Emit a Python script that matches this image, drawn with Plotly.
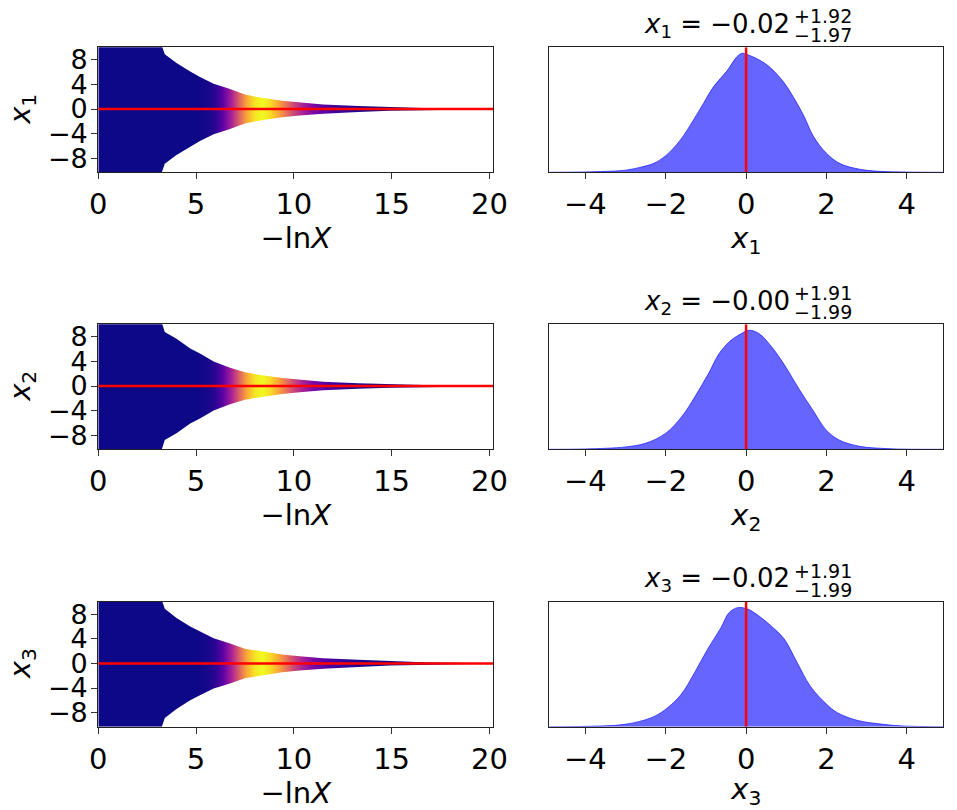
import plotly.graph_objects as go
from plotly.subplots import make_subplots
from plotly.colors import sample_colorscale

# ---------------- data ----------------
labels = ["1", "2", "3"]
medians = ["−0.02", "−0.00", "−0.02"]
err_hi = ["+1.92", "+1.91", "+1.91"]
err_lo = ["−1.97", "−1.99", "−1.99"]
truths = [0.0, 0.0, 0.0]

# trace (left) panels: envelope half-width of samples vs -lnX
lnx_pts = [0, 3.25, 3.4, 4.0, 4.7, 5.2, 5.9, 6.7, 7.5, 8.2, 9.4, 10.3, 11.5, 13.3, 14.9, 16.6, 18.3, 20.2]
hw1 = [10.3, 10.3, 8.9, 7.5, 6.1, 5.2, 4.1, 3.3, 2.35, 1.9, 1.35, 1.05, 0.75, 0.5, 0.3, 0.18, 0.1, 0.05]
hw2 = [10.3, 10.3, 8.8, 7.7, 6.1, 5.3, 4.0, 3.0, 2.25, 1.85, 1.3, 1.0, 0.7, 0.45, 0.27, 0.16, 0.1, 0.05]
hw3 = [10.3, 10.3, 8.9, 7.4, 6.0, 5.2, 4.1, 3.3, 2.4, 2.05, 1.45, 1.15, 0.85, 0.6, 0.35, 0.2, 0.12, 0.06]
halfwidths = [hw1, hw2, hw3]

# importance weight (colour) vs -lnX
w_x = [0, 5.0, 5.6, 6.0, 6.4, 6.8, 7.2, 7.6, 8.0, 8.4, 8.8, 9.2, 9.6, 10.0, 10.5, 11.0, 11.5, 12.0, 13.0, 14.0, 16.0, 20.2]
w_val = [0, 0, 0.02, 0.06, 0.18, 0.36, 0.58, 0.8, 0.95, 1.0, 0.93, 0.8, 0.65, 0.5, 0.36, 0.25, 0.17, 0.11, 0.05, 0.02, 0, 0]

# marginal posterior densities (peak normalised)
d1_x = [-4.9, -4, -3.5, -3, -2.6, -2.3, -2, -1.64, -1.31, -1.06, -0.81, -0.48, -0.23, -0.1, 0.02, 0.35, 0.6, 0.93, 1.18, 1.43, 1.68, 2.0, 2.34, 2.84, 3.34, 4, 4.9]
d1_y = [0, 0.003, 0.008, 0.018, 0.045, 0.075, 0.14, 0.27, 0.44, 0.58, 0.72, 0.85, 0.97, 1.0, 0.99, 0.94, 0.88, 0.76, 0.63, 0.48, 0.30, 0.16, 0.073, 0.025, 0.008, 0.002, 0]
d2_x = [-4.9, -4, -3, -2.51, -2, -1.59, -1.26, -0.93, -0.68, -0.43, -0.18, 0.08, 0.33, 0.66, 0.99, 1.33, 1.66, 2, 2.33, 2.83, 3.5, 4, 4.9]
d2_y = [0, 0.003, 0.02, 0.05, 0.135, 0.28, 0.45, 0.64, 0.8, 0.9, 0.96, 1.0, 0.97, 0.85, 0.69, 0.50, 0.33, 0.16, 0.076, 0.025, 0.006, 0.001, 0]
d3_x = [-4.9, -3.98, -3.02, -2.36, -2, -1.62, -1.29, -0.96, -0.63, -0.42, -0.21, 0.03, 0.28, 0.61, 0.94, 1.27, 1.6, 2, 2.26, 2.76, 3.42, 3.92, 4.9]
d3_y = [0, 0.003, 0.02, 0.076, 0.147, 0.27, 0.45, 0.65, 0.83, 0.96, 1.0, 0.99, 0.94, 0.85, 0.74, 0.54, 0.34, 0.19, 0.12, 0.054, 0.02, 0.006, 0]
dens = [(d1_x, d1_y), (d2_x, d2_y), (d3_x, d3_y)]

x_ticks_left = [0, 5, 10, 15, 20]
y_ticks_left = [-8, -4, 0, 4, 8]
x_ticks_right = [-4, -2, 0, 2, 4]

# ---------------- figure ----------------
W, H = 957, 810
FONT = "DejaVu Sans"
fig = make_subplots(rows=3, cols=2)

row_tops = [47.3, 324.3, 601.7]
panel_h = 125.0
left_dom = [98.3 / W, 493.3 / W]
right_dom = [549.3 / W, 943.3 / W]

xmax_left = 20.2
stops = [[x / xmax_left, c] for x, c in zip(w_x, sample_colorscale("Plasma", w_val))]

for i in range(3):
    r = i + 1
    hw = halfwidths[i]
    px = list(lnx_pts) + list(reversed(lnx_pts))
    py = list(hw) + [-v for v in reversed(hw)]
    fig.add_trace(go.Scatter(x=px, y=py, mode="lines", fill="toself",
                             line=dict(width=0),
                             fillgradient=dict(type="horizontal", colorscale=stops,
                                               start=0, stop=xmax_left),
                             showlegend=False, hoverinfo="skip"), row=r, col=1)
    fig.add_trace(go.Scatter(x=[0, xmax_left], y=[truths[i], truths[i]], mode="lines",
                             line=dict(color="red", width=2.5), showlegend=False),
                  row=r, col=1)
    dx, dy = dens[i]
    fig.add_trace(go.Scatter(x=dx, y=dy, mode="lines", fill="tozeroy",
                             line=dict(color="rgba(0,0,255,0.6)", width=1, shape="spline", smoothing=1.0),
                             fillcolor="rgba(0,0,255,0.6)", showlegend=False), row=r, col=2)
    fig.add_trace(go.Scatter(x=[truths[i], truths[i]], y=[0, 1.05], mode="lines",
                             line=dict(color="red", width=2.5), showlegend=False), row=r, col=2)

    top = row_tops[i]
    ydom = [1 - (top + panel_h) / H, 1 - top / H]
    axis_common = dict(showline=True, linecolor="#222", linewidth=1.2, mirror=True,
                       ticks="outside", ticklen=6, tickwidth=1.2, tickcolor="#333",
                       showgrid=False, zeroline=False, automargin=False)
    fig.update_xaxes(domain=left_dom, range=[0, xmax_left], tickvals=x_ticks_left,
                     tickfont=dict(family=FONT, size=29, color="black"),
                     title=dict(text="−ln<i>X</i>", font=dict(family=FONT, size=29, color="black"), standoff=0),
                     row=r, col=1, **axis_common)
    fig.update_yaxes(domain=ydom, range=[-10.3, 10.05], tickvals=y_ticks_left,
                     tickfont=dict(family=FONT, size=27, color="black"),
                     ticklabelstandoff=-2,
                     row=r, col=1, **axis_common)
    fig.update_xaxes(domain=right_dom, range=[-4.9, 4.91], tickvals=x_ticks_right,
                     tickfont=dict(family=FONT, size=29, color="black"),
                     title=dict(text="<i>x</i><sub>" + labels[i] + "</sub>",
                                font=dict(family=FONT, size=29, color="black"), standoff=0),
                     row=r, col=2, **axis_common)
    fig.update_yaxes(domain=ydom, range=[0, 1.05], showticklabels=False,
                     row=r, col=2, **{**axis_common, "ticks": ""})

    # y-axis label of the trace panel
    fig.add_annotation(xref="paper", yref="paper", x=22 / W, y=1 - (top + panel_h / 2) / H,
                       xanchor="center", yanchor="middle", showarrow=False, textangle=-90,
                       text="<i>x</i><sub>" + labels[i] + "</sub>",
                       font=dict(family=FONT, size=29, color="black"))

    # title:  x_i = median ^{+hi}_{-lo}
    split_x = 792.0 / W
    fig.add_annotation(xref="paper", yref="paper", x=split_x, y=1 - (top - 22) / H,
                       xanchor="right", yanchor="middle", showarrow=False,
                       text="<i>x</i><sub>" + labels[i] + "</sub>\u00a0=\u00a0" + medians[i],
                       font=dict(family=FONT, size=26, color="black"))
    fig.add_annotation(xref="paper", yref="paper", x=split_x, y=1 - (top - 31) / H,
                       xanchor="left", yanchor="middle", showarrow=False,
                       text=err_hi[i], font=dict(family=FONT, size=19, color="black"))
    fig.add_annotation(xref="paper", yref="paper", x=split_x, y=1 - (top - 12) / H,
                       xanchor="left", yanchor="middle", showarrow=False,
                       text=err_lo[i], font=dict(family=FONT, size=19, color="black"))

fig.update_layout(width=W, height=H, margin=dict(l=0, r=0, t=0, b=0),
                  plot_bgcolor="white", paper_bgcolor="white",
                  font=dict(family=FONT, color="black"), showlegend=False)
fig.write_html("out.html")
